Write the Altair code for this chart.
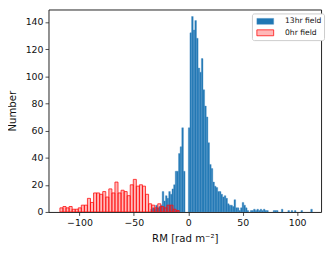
import altair as alt
import pandas as pd

# ---- data ----
blue_label = "13hr field"
red_label = "0hr field"

blue_start = -34.5      # left edge of the first blue bin
blue_width = 1.5        # blue bin width
blue_counts = [2, 3, 2, 5, 3, 4, 5, 15, 8, 12, 10, 15, 13, 17, 20, 30, 30, 43, 48, 62,
               30, 0, 0, 62, 132, 144, 134, 141, 128, 106, 103, 113, 90, 78, 70, 51, 35, 32,
               22, 19, 18, 15, 15, 13, 11, 12, 10, 6, 5, 5, 4, 9, 3, 3, 1, 3, 7, 5, 3, 1,
               0, 1, 1, 2, 1, 2, 1, 2, 1, 2, 1, 1, 0, 0, 0, 1, 1, 1, 0, 0, 2, 0, 0, 0, 1,
               0, 1, 0, 1, 0, 0, 0, 1, 0, 0, 0, 0, 0, 2, 0]

red_start = -118.0      # left edge of the first red bin
red_width = 2.81        # red bin width
red_counts = [3, 4, 3, 4, 2, 2, 3, 5, 5, 10, 7, 14, 14, 13, 15, 11, 17, 14, 22, 14,
              16, 15, 12, 20, 24, 19, 20, 19, 13, 6, 5, 3, 6, 4, 3, 5, 5, 2, 1]

x_ticks = [-100, -50, 0, 50, 100]
y_ticks = [0, 20, 40, 60, 80, 100, 120, 140]
x_domain = [-128.5, 122]
y_domain = [0, 149.2]

rows = []
for i, c in enumerate(blue_counts):
    if c > 0:
        rows.append({"series": blue_label, "key": 0, "x0": blue_start + i * blue_width,
                     "x1": blue_start + (i + 1) * blue_width, "count": c})
for i, c in enumerate(red_counts):
    if c > 0:
        rows.append({"series": red_label, "key": 1, "x0": red_start + i * red_width,
                     "x1": red_start + (i + 1) * red_width, "count": c})
df = pd.DataFrame(rows)

series_domain = [blue_label, red_label]
FONT = "DejaVu Sans"
legend_kw = dict(title=None, orient="none", legendX=206, legendY=4)

chart = alt.Chart(df).mark_rect(clip=True).encode(
    x=alt.X("x0:Q", scale=alt.Scale(domain=x_domain, nice=False, zero=False),
            axis=alt.Axis(values=x_ticks, title="RM [rad m⁻²]",
                          labelExpr="replace(datum.label, '-', '−')",
                          titleBaseline="middle", titleY=27)),
    x2="x1:Q",
    y=alt.Y("count:Q", scale=alt.Scale(domain=y_domain, nice=False),
            axis=alt.Axis(values=y_ticks, title="Number", titleX=-33.5,
                          titleBaseline="alphabetic")),
    y2=alt.datum(0),
    fill=alt.Fill("series:N",
                  scale=alt.Scale(domain=series_domain,
                                  range=["#1f77b4", "rgba(255,0,0,0.28)"]),
                  legend=alt.Legend(**legend_kw)),
    stroke=alt.Stroke("series:N",
                      scale=alt.Scale(domain=series_domain,
                                      range=["#4a90c4", "#ff1010"]),
                      legend=alt.Legend(**legend_kw)),
    strokeWidth=alt.StrokeWidth("series:N",
                                scale=alt.Scale(domain=series_domain, range=[0.4, 0.8]),
                                legend=None),
    order=alt.Order("key:Q"),
).properties(
    width=276, height=205,
    autosize=alt.AutoSizeParams(type="none"),
    padding={"left": 41, "top": 0, "right": 5, "bottom": 35},
).configure_view(
    stroke="#222222", strokeWidth=1
).configure_axis(
    grid=False, domain=False, ticks=True, tickSize=3.5, tickColor="#222222",
    tickWidth=0.8, labelFont=FONT, labelFontSize=9.5, labelColor="#111111",
    labelPadding=2, titleFont=FONT, titleFontSize=10.3, titleFontWeight="normal",
    titleColor="#111111"
).configure_legend(
    labelFont=FONT, labelFontSize=7.7, labelColor="#111111",
    symbolType="M-1.7,-0.6H1.7V0.6H-1.7Z", symbolSize=100, symbolStrokeWidth=1,
    symbolOffset=5.5, labelOffset=14.5, rowPadding=1.6, padding=2.5,
    fillColor="white", strokeColor="#cccccc", cornerRadius=2
)

chart.save("out.html", embed_options={"renderer": "svg", "actions": False})
